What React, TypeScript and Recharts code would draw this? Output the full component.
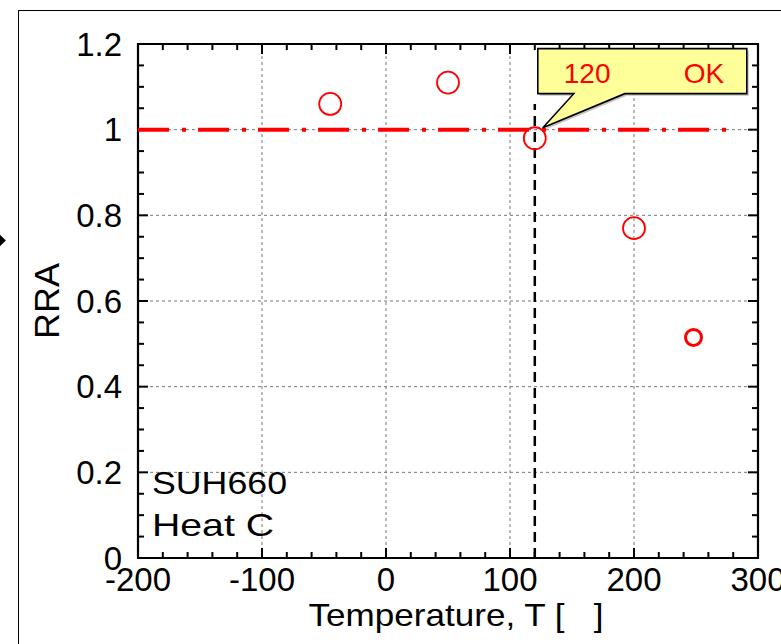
import React from "react";
import {
  ScatterChart,
  Scatter,
  XAxis,
  YAxis,
  CartesianGrid,
  ReferenceLine,
  ReferenceArea,
  ReferenceDot,
} from "recharts";

// measured points: temperature [C] vs RRA
const temps = [-45, 50, 120, 200, 248];
const rraValues = [1.06, 1.11, 0.98, 0.77, 0.515];

const xTicks = [-200, -100, 0, 100, 200, 300];
const yTicks = [0, 0.2, 0.4, 0.6, 0.8, 1, 1.2];
const xMinorStep = 20;
const yMinorStep = 0.05;

const threshold = 1;
const thresholdEnd = 277;
const judgedTemp = 120;
const judgedTop = 1.06;
const calloutTemp = "120";
const calloutVerdict = "OK";
const materialLines = ["SUH660", "Heat C"];
const xLabel = "Temperature, T [\u00a0\u00a0\u00a0]";
const yLabel = "RRA";

const FONT = "'Liberation Sans', Arial, Helvetica, sans-serif";
const W = 781;
const H = 644;

// px -> data units (plot is 619 x 514 px)
const XU = 500 / 619;
const YU = 1.2 / 514;

const data = temps.map((t, i) => ({ x: t, y: rraValues[i] }));

const minorX: number[] = [];
for (let v = xTicks[0]; v <= xTicks[xTicks.length - 1] + 1e-9; v += xMinorStep) minorX.push(Math.round(v));
const minorY: number[] = [];
for (let v = 0; v <= 1.2 + 1e-9; v += yMinorStep) minorY.push(Math.round(v * 100) / 100);

const isMajorX = (v: number) => xTicks.includes(v);
const isMajorY = (v: number) => yTicks.some((t) => Math.abs(t - v) < 1e-6);

function Marker(props: any) {
  const { cx, cy, payload } = props;
  const small = payload && payload.x === temps[temps.length - 1];
  return (
    <circle
      cx={cx}
      cy={cy}
      r={small ? 8 : 11}
      fill="none"
      stroke="#ff0000"
      strokeWidth={small ? 3 : 1.8}
    />
  );
}

function Callout(props: any) {
  const { cx, cy } = props;
  return (
    <g transform={`translate(${cx},${cy})`}>
      <path d="M5,-79 H214 V-34 H92 L10,0 L41,-34 H5 Z" fill="#888" opacity={0.5} />
      <path
        d="M3,-81 H212 V-36 H90 L8,-2 L39,-36 H3 Z"
        fill="#ffff99"
        stroke="#000"
        strokeWidth={1.6}
      />
      <text x={29} y={-47} fill="#ff0000" fontSize={28} fontFamily={FONT}>
        {calloutTemp}
      </text>
      <text x={149} y={-47} fill="#ff0000" fontSize={28} fontFamily={FONT}>
        {calloutVerdict}
      </text>
    </g>
  );
}

function Material(props: any) {
  const { cx, cy } = props;
  return (
    <g>
      <text x={cx + 14} y={cy - 64} fontSize={32} fontFamily={FONT} fill="#000" textLength={135} lengthAdjust="spacingAndGlyphs">
        {materialLines[0]}
      </text>
      <text x={cx + 14} y={cy - 22} fontSize={32} fontFamily={FONT} fill="#000" textLength={122} lengthAdjust="spacingAndGlyphs">
        {materialLines[1]}
      </text>
    </g>
  );
}

export default function App() {
  const tickStyle = { fill: "#000", fontSize: 33, fontFamily: FONT };
  return (
    <div style={{ position: "absolute", left: 0, top: 0, width: W, height: H, overflow: "hidden", background: "#fff" }}>
      <div
        style={{
          position: "absolute",
          left: 18,
          top: 10,
          width: 900,
          height: 900,
          border: "1.5px solid #000",
        }}
      />
      <div
        style={{
          position: "absolute",
          left: -5,
          top: 236,
          width: 9,
          height: 9,
          background: "#000",
          transform: "rotate(45deg)",
        }}
      />
      <ScatterChart
        width={W}
        height={H}
        margin={{ top: 44, right: 23, left: 0, bottom: 0 }}
        style={{ position: "absolute", left: 0, top: 0 }}
      >
        <CartesianGrid stroke="#777" strokeDasharray="3 3" strokeWidth={1} />
        <XAxis
          type="number"
          dataKey="x"
          domain={[-200, 300]}
          ticks={xTicks}
          height={86}
          axisLine={false}
          tickLine={false}
          tickSize={0}
          tickMargin={10}
          tick={tickStyle}
          interval={0}
          label={{
            content: (p: any) => {
              const vb = p.viewBox;
              return (
                <text
                  x={vb.x + vb.width / 2 + 8}
                  y={626}
                  textAnchor="middle"
                  fontSize={32}
                  fontFamily={FONT}
                  fill="#000"
                  textLength={295}
                  lengthAdjust="spacingAndGlyphs"
                >
                  {xLabel}
                </text>
              );
            },
          }}
        />
        <YAxis
          type="number"
          dataKey="y"
          domain={[0, 1.2]}
          ticks={yTicks}
          width={138}
          axisLine={false}
          tickLine={false}
          tickSize={0}
          tickMargin={16}
          tick={tickStyle}
          interval={0}
          label={{
            content: (p: any) => {
              const vb = p.viewBox;
              const cy = vb.y + vb.height / 2;
              return (
                <text
                  x={46}
                  y={cy}
                  transform={`rotate(-90 46 ${cy})`}
                  textAnchor="middle"
                  dominantBaseline="central"
                  fontSize={35}
                  fontFamily={FONT}
                  fill="#000"
                  textLength={76}
                  lengthAdjust="spacingAndGlyphs"
                >
                  {yLabel}
                </text>
              );
            },
          }}
        />
        {minorX.map((v) => {
          const len = isMajorX(v) ? 10 : 6;
          return (
            <React.Fragment key={`tx${v}`}>
              <ReferenceLine segment={[{ x: v, y: 0 }, { x: v, y: len * YU }]} stroke="#000" strokeWidth={2} />
              <ReferenceLine segment={[{ x: v, y: 1.2 }, { x: v, y: 1.2 - len * YU }]} stroke="#000" strokeWidth={2} />
            </React.Fragment>
          );
        })}
        {minorY.map((v) => {
          const len = isMajorY(v) ? 10 : 6;
          return (
            <React.Fragment key={`ty${v}`}>
              <ReferenceLine segment={[{ x: -200, y: v }, { x: -200 + len * XU, y: v }]} stroke="#000" strokeWidth={2} />
              <ReferenceLine segment={[{ x: 300, y: v }, { x: 300 - len * XU, y: v }]} stroke="#000" strokeWidth={2} />
            </React.Fragment>
          );
        })}
        <ReferenceLine
          segment={[{ x: -200, y: threshold }, { x: thresholdEnd, y: threshold }]}
          stroke="#ff0000"
          strokeWidth={4}
          strokeDasharray="31 13 4 12"
        />
        <ReferenceLine
          segment={[{ x: judgedTemp, y: 0 }, { x: judgedTemp, y: judgedTop }]}
          stroke="#000"
          strokeWidth={2.5}
          strokeDasharray="10 6"
        />
        <ReferenceArea x1={-200} x2={300} y1={0} y2={1.2} fill="none" fillOpacity={0} stroke="#000" strokeWidth={2.2} />
        <Scatter data={data} shape={<Marker />} isAnimationActive={false} />
        <ReferenceDot x={judgedTemp} y={threshold} shape={<Callout />} />
        <ReferenceDot x={-200} y={0} shape={<Material />} />
      </ScatterChart>
    </div>
  );
}
